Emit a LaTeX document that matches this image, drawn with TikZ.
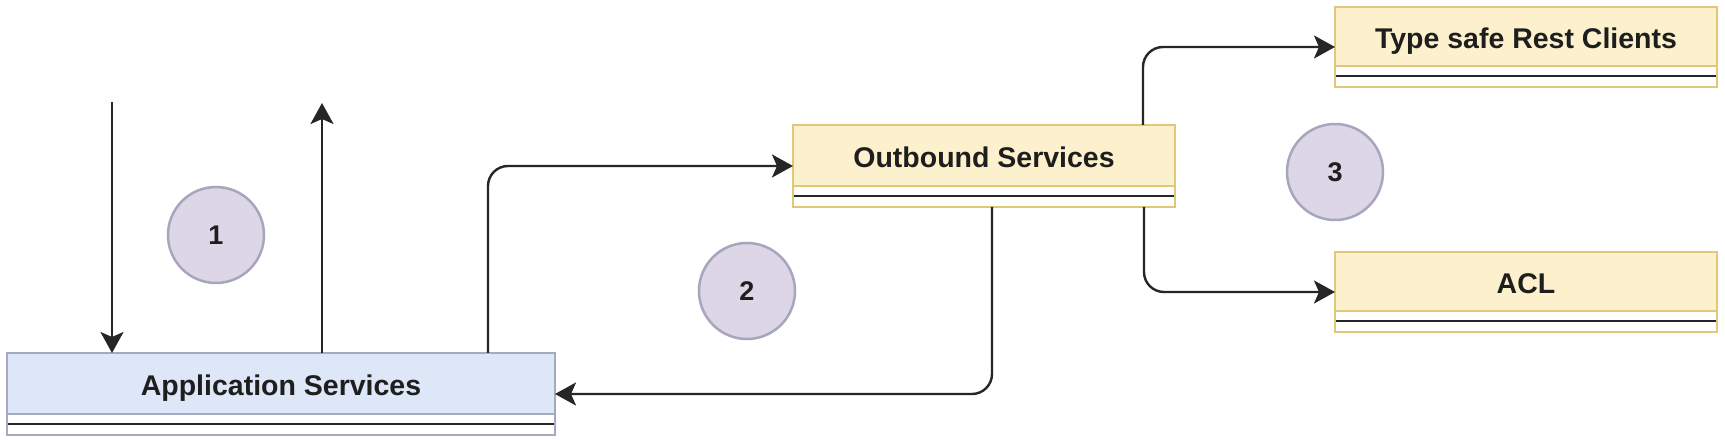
\documentclass[tikz,border=0pt]{standalone}
\usepackage{fontspec}
\setmainfont{Liberation Sans}
\usetikzlibrary{arrows.meta}
\definecolor{bluefill}{HTML}{DDE7F8}
\definecolor{bluestroke}{HTML}{A3AAC2}
\definecolor{yelfill}{HTML}{FCF1CC}
\definecolor{yelstroke}{HTML}{E0C879}
\definecolor{circfill}{HTML}{DDD6E6}
\definecolor{circstroke}{HTML}{A6A6BC}
\definecolor{linecol}{HTML}{262626}
\definecolor{txt}{HTML}{1E1E1E}
\begin{document}
\begin{tikzpicture}[x=1pt,y=-1pt,
  box/.style 2 args={draw=#2, line width=2pt, minimum width=382pt, minimum height=82pt,
    inner sep=0pt, outer sep=0pt, text=txt,
    font=\fontsize{28.5}{34}\selectfont\bfseries, text height=22pt, text depth=18pt,
    path picture={
      \fill[#1] (path picture bounding box.north west) rectangle ([yshift=21pt]path picture bounding box.south east);
      \draw[#2, line width=2pt] ([yshift=21pt]path picture bounding box.south west) -- ([yshift=21pt]path picture bounding box.south east);
      \draw[linecol, line width=2pt] ([yshift=10.5pt]path picture bounding box.south west) -- ([yshift=10.5pt]path picture bounding box.south east);
    }},
  stepcirc/.style={circle, draw=circstroke, fill=circfill, line width=2.5pt, minimum size=96pt,
    inner sep=0pt, text=txt, font=\fontsize{27}{32}\selectfont\bfseries},
  arr/.style={draw=linecol, line width=2.4pt, rounded corners=20pt,
    -{Stealth[length=21pt, width=23pt, inset=5pt]}}
]
\path[fill=white] (0,0) rectangle (1725,443);
\useasboundingbox (0,0) rectangle (1725,443);

\node[box={bluefill}{bluestroke}, minimum width=548pt] (app) at (281,394) {Application Services};
\node[box={yelfill}{yelstroke}] (out) at (984,166) {Outbound Services};
\node[box={yelfill}{yelstroke}, minimum height=80pt] (rest) at (1526,47) {Type safe Rest Clients};
\node[box={yelfill}{yelstroke}, minimum height=80pt] (acl) at (1526,292) {ACL};

\node[stepcirc] (c1) at (216,235) {1};
\node[stepcirc] (c2) at (747,291) {2};
\node[stepcirc] (c3) at (1335,172) {3};

\coordinate (d1) at (112,102);
\coordinate (u1) at (322,103);
\coordinate (a3) at (488,0);
\coordinate (a4) at (992,0);
\coordinate (a5) at (1143,0);
\coordinate (a6) at (1144,0);

\draw[arr] (d1) -- (d1 |- app.north);
\draw[arr] (u1 |- app.north) -- (u1);
\draw[arr] (a3 |- app.north) -- (a3 |- out.west) -- (out.west);
\draw[arr] (a4 |- out.south) -- (a4 |- app.east) -- (app.east);
\draw[arr] (a5 |- out.north) -- (a5 |- rest.west) -- (rest.west);
\draw[arr] (a6 |- out.south) -- (a6 |- acl.west) -- (acl.west);
\end{tikzpicture}
\end{document}
